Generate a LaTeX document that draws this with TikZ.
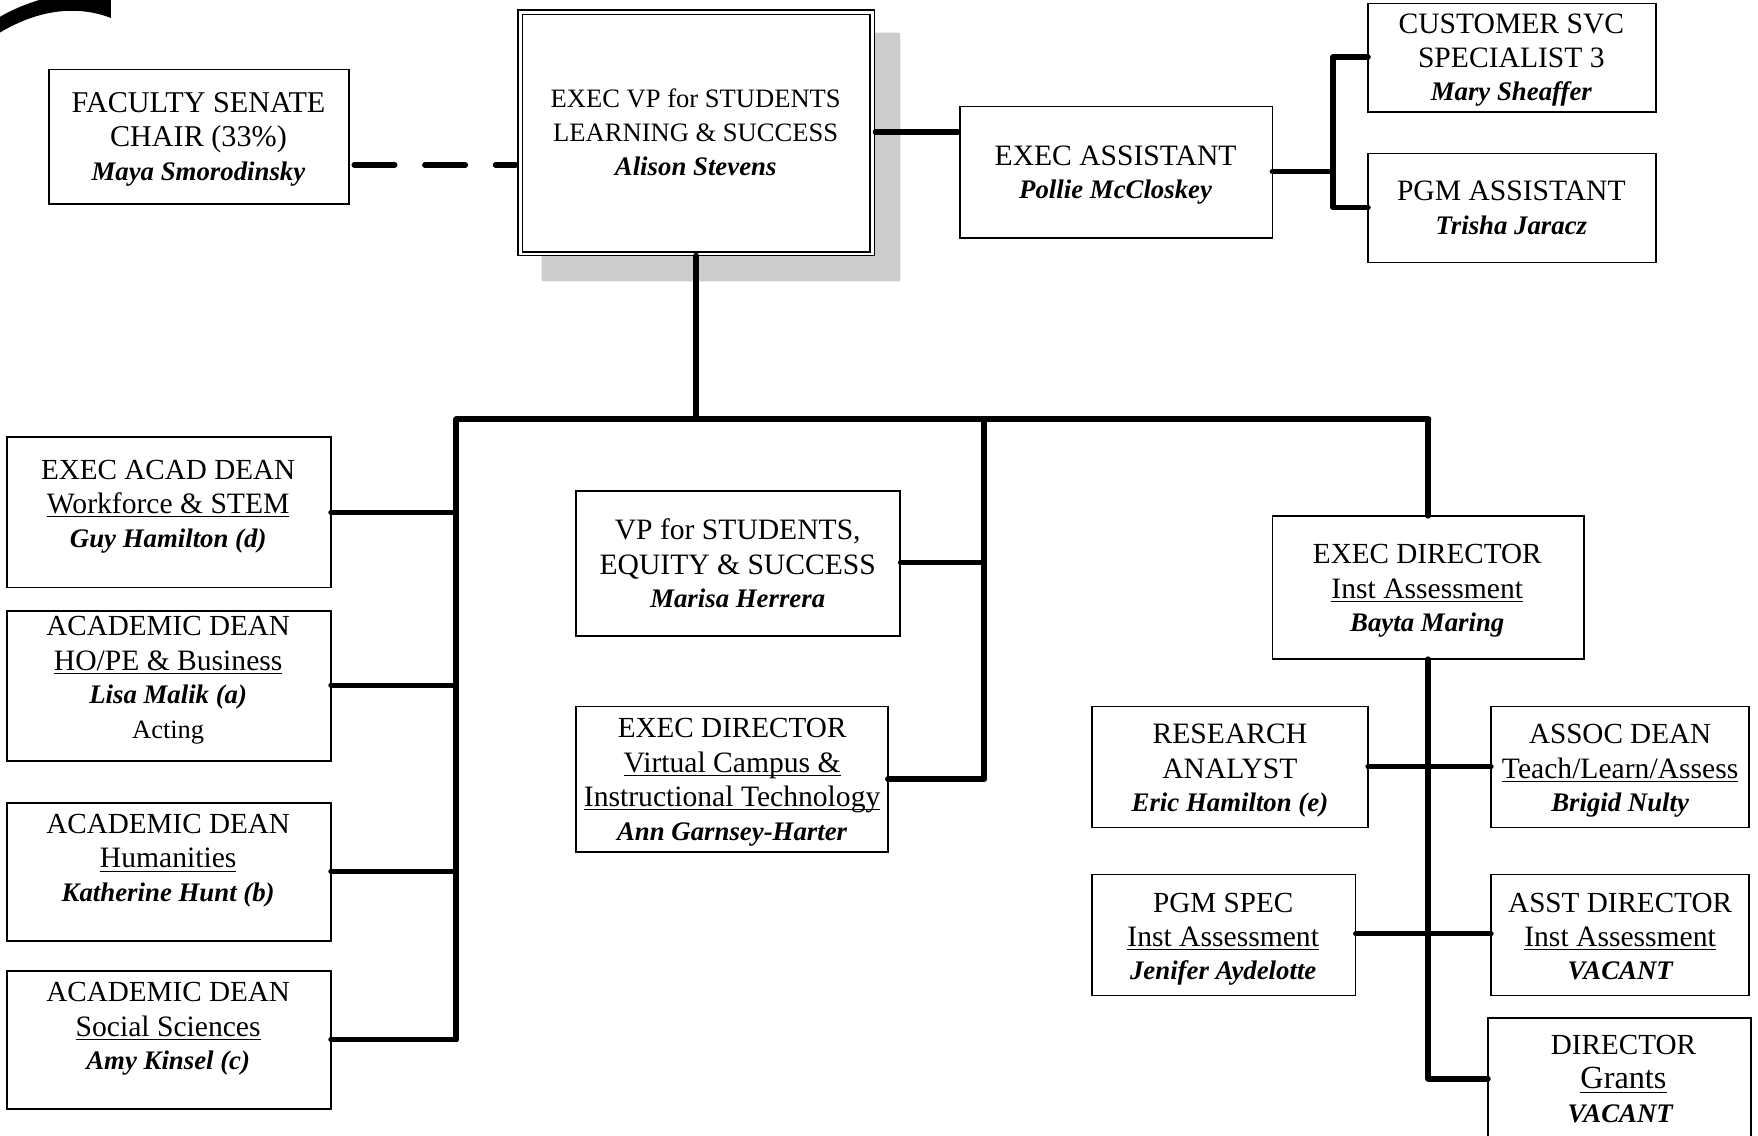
\documentclass[tikz,border=0pt]{standalone}
\usepackage{fontspec}
\setmainfont{Liberation Serif}
\newcommand\nm[1]{\raisebox{0.35pt}{\fontsize{11.95}{15.3}\selectfont\bfseries\itshape #1}}
\newcommand\ul[1]{{\fontsize{13.2}{15.3}\selectfont\underline{\smash{#1}}}}
% [size]{name}{x1}{y1}{x2}{y2}{text centre x}{text middle baseline y}{lines}
\newcommand\orgbox[9][13.2]{%
  \pgfmathsetmacro\bw{(#5-#3)*0.5}\pgfmathsetmacro\bh{(#6-#4)*0.5}%
  \pgfmathsetmacro\bcx{(#3+#5)/2}\pgfmathsetmacro\bcy{(#4+#6)/2}%
  \pgfmathsetmacro\bdx{#7-\bcx}\pgfmathsetmacro\bdy{(\bcy-#8)*0.5}%
  \node[orgnode,minimum width=\bw pt,minimum height=\bh pt] (#2) at (\bcx,\bcy)
   {\raisebox{\bdy pt}[0pt][0pt]{\makebox[0pt][c]{\hspace*{\bdx pt}\fontsize{#1}{15.3}\selectfont\begin{tabular}{@{}c@{}}#9\end{tabular}}}};}
\tikzset{
  orgnode/.style={draw=black,line width=0.75pt,fill=white,inner sep=0pt,outer sep=0pt,text=black},
  thick link/.style={line width=2.6pt,line cap=round,line join=round,black},
  mid link/.style={line width=2.2pt,line cap=round,line join=round,black}
}
\begin{document}
\begin{tikzpicture}[x=0.5pt,y=-0.5pt]
\clip (0,0) rectangle (1568,1013.2);
\fill[white] (0,0) rectangle (1568,1013.2);
% crescent
\fill[black] (0,29) .. controls (30,11) and (65,3) .. (99,16) -- (99,0) -- (35,0) .. controls (22,4) and (10,9) .. (0,15) -- cycle;
% shadow
\fill[black!20,rounded corners=1pt] (483,29) rectangle (803,251);
% boxes
\orgbox[13.45]{fac}{44}{62}{311}{182}{177}{132}{FACULTY SENATE\\CHAIR (33\%)\\\nm{Maya Smorodinsky}}
\node[draw=black,line width=0.75pt,fill=white,inner sep=0pt,outer sep=0pt,minimum width=159pt,minimum height=109.5pt] (vpo) at (621,118.5) {};
\orgbox[11.85]{vp}{466}{13}{776}{225}{620.5}{126.5}{EXEC VP for STUDENTS\\LEARNING \& SUCCESS\\\nm{Alison Stevens}}
\orgbox{asst}{856}{95}{1135}{212}{995}{162.5}{EXEC ASSISTANT\\\nm{Pollie McCloskey}}
\orgbox{cust}{1220}{3}{1477}{100}{1348}{60}{CUSTOMER SVC\\SPECIALIST 3\\\nm{Mary Sheaffer}}
\orgbox{pgma}{1220}{137}{1477}{234}{1348}{194}{PGM ASSISTANT\\\nm{Trisha Jaracz}}
\orgbox[13.0]{stem}{6}{390}{295}{524}{150}{458}{EXEC ACAD DEAN\\\ul{Workforce \& STEM}\\\nm{Guy Hamilton (d)}}
\orgbox[13.0]{hope}{6}{545}{295}{679}{150}{613}{ACADEMIC DEAN\\\ul{HO/PE \& Business}\\\nm{Lisa Malik (a)}\\{\fontsize{11.8}{15.3}\selectfont Acting}}
\orgbox[13.0]{hum}{6}{716}{295}{839}{150}{774}{ACADEMIC DEAN\\\ul{Humanities}\\\nm{Katherine Hunt (b)}}
\orgbox[13.0]{soc}{6}{866}{295}{989}{150}{924}{ACADEMIC DEAN\\\ul{Social Sciences}\\\nm{Amy Kinsel (c)}}
\orgbox{eqty}{514}{438}{803}{567}{658}{512}{VP for STUDENTS,\\EQUITY \& SUCCESS\\\nm{Marisa Herrera}}
\orgbox[13.0]{virt}{514}{630}{792}{760}{653}{704}{EXEC DIRECTOR\\\ul{Virtual Campus \&}\\\ul{Instructional Technology}\\\nm{Ann Garnsey-Harter}}
\orgbox[13.0]{inst}{1135}{460}{1413}{588}{1273}{533.5}{EXEC DIRECTOR\\\ul{Inst Assessment}\\\nm{Bayta Maring}}
\orgbox{res}{974}{630}{1220}{738}{1097}{694}{RESEARCH\\ANALYST\\\nm{Eric Hamilton (e)}}
\orgbox[13.0]{assoc}{1330}{630}{1560}{738}{1445}{694}{ASSOC DEAN\\\ul{Teach/Learn/Assess}\\\nm{Brigid Nulty}}
\orgbox[13.0]{spec}{974}{780}{1209}{888}{1091}{844}{PGM SPEC\\\ul{Inst Assessment}\\\nm{Jenifer Aydelotte}}
\orgbox[13.0]{asstd}{1330}{780}{1560}{888}{1445}{844}{ASST DIRECTOR\\\ul{Inst Assessment}\\\nm{VACANT}}
\orgbox[13.0]{grants}{1327}{908}{1562}{1040}{1448}{971}{DIRECTOR\\{\fontsize{14.4}{15.3}\selectfont\underline{\smash{Grants}}}\\\nm{\hspace*{-3pt}VACANT}}
% junctions
\coordinate (top) at (621,374);
\coordinate (busL) at (407,374);
\coordinate (busLend) at (407,927);
\coordinate (busC) at (878,374);
\coordinate (busCend) at (878,695);
\coordinate (busR) at (1274,374);
\coordinate (busRend) at (1274,962);
\coordinate (jA) at (1189,153);
\coordinate (jB) at (1189,51);
\coordinate (jC) at (1189,185);
\coordinate (dashS) at (316,147);
% dashed link
\draw[line width=2.5pt,line cap=round,black,dash pattern=on 18pt off 13.5pt,shorten >=1pt] (dashS) -- (dashS -| vpo.west);
% top links
\draw[thick link,shorten <=0.5pt,shorten >=1pt] (vpo.east |- 0,118) -- (asst.west |- 0,118);
\draw[thick link] (vpo.south) -- (top);
\draw[thick link] (busL) -- (busR);
\draw[thick link] (asst.east |- jA) -- (jA);
\draw[thick link] (cust.west |- jB) -- (jB) -- (jC) -- (pgma.west |- jC);
% left
\draw[thick link] (busL) -- (busLend);
\draw[mid link] (stem.east |- 0,457) -- (407,457);
\draw[mid link] (hope.east |- 0,611) -- (407,611);
\draw[mid link] (hum.east |- 0,777) -- (407,777);
\draw[mid link] (soc.east |- busLend) -- (busLend);
% centre
\draw[thick link] (busC) -- (busCend) -- (virt.east |- busCend);
\draw[mid link] (eqty.east |- 0,502) -- (878,502);
% right
\draw[thick link] (busR) -- (busR |- inst.north);
\draw[thick link] (busR |- inst.south) -- (busRend) -- (grants.west |- busRend);
\draw[mid link] (res.east |- 0,684) -- (assoc.west |- 0,684);
\draw[mid link] (spec.east |- 0,833) -- (asstd.west |- 0,833);
\end{tikzpicture}
\end{document}
